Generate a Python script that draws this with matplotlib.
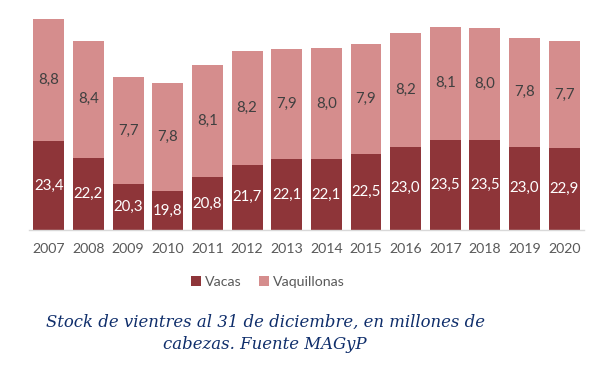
import matplotlib
matplotlib.use('Agg')
import matplotlib.pyplot as plt
import numpy as np

years = ['2007', '2008', '2009', '2010', '2011', '2012', '2013',
         '2014', '2015', '2016', '2017', '2018', '2019', '2020']
vacas = [23.4, 22.2, 20.3, 19.8, 20.8, 21.7, 22.1,
         22.1, 22.5, 23.0, 23.5, 23.5, 23.0, 22.9]
vaquillonas = [8.8, 8.4, 7.7, 7.8, 8.1, 8.2, 7.9,
               8.0, 7.9, 8.2, 8.1, 8.0, 7.8, 7.7]

dark = '#8e3539'
pink = '#d58d8d'
label_font = ['Lato', 'DejaVu Sans']

fig = plt.figure(figsize=(6.04, 3.72), dpi=100)
ax = fig.add_axes([0.048, 0.3817, 0.919, 0.598])

x = np.arange(len(years))
base = 17.0
vac_h = [v - base for v in vacas]
ax.bar(x, vac_h, bottom=base, width=0.78, color=dark, label='Vacas')
ax.bar(x, vaquillonas, bottom=vacas, width=0.78, color=pink, label='Vaquillonas')

for i in range(len(years)):
    ax.text(x[i], (base + vacas[i]) / 2, f'{vacas[i]:.1f}'.replace('.', ','),
            ha='center', va='center', color='white', fontsize=10.8,
            family=label_font)
    ax.text(x[i], vacas[i] + vaquillonas[i] / 2,
            f'{vaquillonas[i]:.1f}'.replace('.', ','),
            ha='center', va='center', color='#404040', fontsize=10.8,
            family=label_font)

ax.set_xlim(-0.5, len(years) - 0.5)
ax.set_ylim(base, 33)
ax.set_xticks(x)
ax.set_xticklabels(years, fontsize=10.2, color='#595959', family=label_font)
ax.tick_params(axis='x', length=0, pad=9)
ax.set_yticks([])
for side in ['top', 'right', 'left']:
    ax.spines[side].set_visible(False)
ax.spines['bottom'].set_color('#d9d9d9')
ax.spines['bottom'].set_linewidth(1)

leg = fig.legend(loc='center', bbox_to_anchor=(268 / 604, 1 - 282 / 372),
                 ncol=2, frameon=False, handlelength=0.7, handleheight=0.7,
                 handletextpad=0.3, columnspacing=1.2,
                 prop={'family': label_font, 'size': 10.2})
for t in leg.get_texts():
    t.set_color('#595959')

fig.text(265 / 604, 1 - 333.5 / 372,
         'Stock de vientres al 31 de diciembre, en millones de\ncabezas. Fuente MAGyP',
         ha='center', va='center', color='#0f2e6b', fontsize=11.9,
         family='DejaVu Serif', style='italic', linespacing=1.45)

fig.savefig('out.png', dpi=100, facecolor='white')
